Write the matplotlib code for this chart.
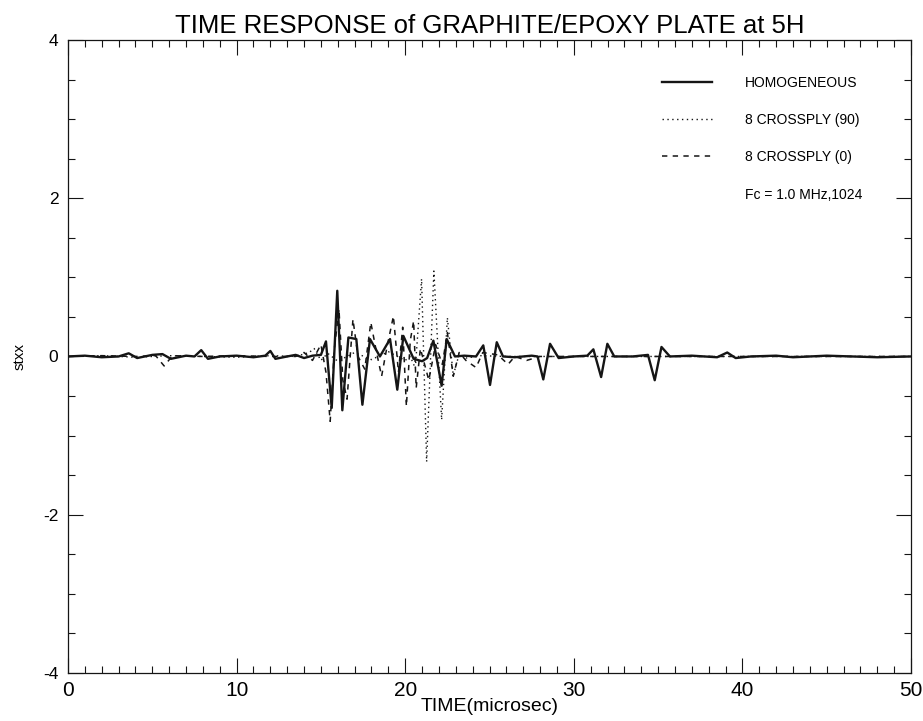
import numpy as np
import matplotlib.pyplot as plt
from matplotlib.ticker import MultipleLocator

# HOMOGENEOUS (solid)
t_hom = [0, 1, 2, 3, 3.6, 4.1, 5, 5.6, 6.1, 7, 7.5, 7.9, 8.3, 9, 10, 11, 11.7, 12.0, 12.3,
         13, 13.5, 14, 14.5, 15.0, 15.3, 15.64, 15.97, 16.27, 16.63, 17.1, 17.46, 17.91,
         18.5, 19.1, 19.53, 19.89, 20.5, 21.0, 21.3, 21.67, 22.16, 22.46, 22.95, 23.5,
         24.2, 24.63, 25.03, 25.43, 25.8, 26.5, 27.5, 27.85, 28.19, 28.59, 29.1, 30,
         30.8, 31.16, 31.62, 31.99, 32.4, 33.5, 34.4, 34.8, 35.2, 35.7, 37, 38.5, 39.1,
         39.6, 40.5, 42, 43, 44, 45, 46.5, 48, 50]
v_hom = [0, 0.01, -0.01, 0.0, 0.04, -0.02, 0.02, 0.03, -0.03, 0.01, 0.0, 0.08, -0.03, 0.0,
         0.01, -0.01, 0.01, 0.07, -0.03, 0.0, 0.02, -0.02, 0.01, 0.02, 0.19, -0.65, 0.83,
         -0.68, 0.24, 0.22, -0.61, 0.22, 0.0, 0.22, -0.42, 0.26, -0.03, -0.06, -0.02,
         0.2, -0.37, 0.22, 0.0, 0.01, 0.0, 0.14, -0.36, 0.18, 0.0, -0.01, 0.01, 0.0,
         -0.29, 0.16, -0.02, 0.0, 0.01, 0.09, -0.26, 0.16, 0.0, 0.0, 0.02, -0.3, 0.12,
         0.0, 0.01, -0.01, 0.05, -0.02, 0.0, 0.01, -0.01, 0.0, 0.01, 0.0, -0.01, 0.0]

# 8 CROSSPLY (90) (dotted)
t_90 = [0, 2, 4, 6, 8, 10, 12, 13.5, 14.3, 14.6, 15.0, 15.4, 16.0, 17.0, 18.0, 19.0, 20.0,
        20.3, 20.6, 20.97, 21.27, 21.7, 22.16, 22.5, 22.85, 23.2, 23.6, 24.5, 26, 30, 35,
        40, 45, 50]
v_90 = [0, 0.01, -0.01, 0.01, 0.0, -0.01, 0.01, 0.0, 0.05, 0.1, -0.05, 0.04, -0.06, 0.05,
        -0.04, 0.06, -0.05, 0.0, -0.15, 0.98, -1.33, 1.08, -0.8, 0.49, -0.24, 0.03, -0.02,
        0.01, 0.0, 0.0, 0.0, 0.0, 0.0, 0.0]

# 8 CROSSPLY (0) (dashed)
t_0 = [0, 2, 4, 5.2, 5.7, 6.2, 8, 10, 12, 13.5, 14.0, 14.5, 15.0, 15.3, 15.55, 15.8, 16.07,
       16.3, 16.55, 16.9, 17.2, 17.6, 17.96, 18.3, 18.6, 18.9, 19.3, 19.6, 19.85, 20.07,
       20.3, 20.5, 20.65, 20.9, 21.4, 21.8, 22.2, 22.5, 22.85, 23.2, 23.6, 24.2, 24.6,
       25.5, 26.1, 26.5, 27.2, 28, 30, 35, 40, 45, 50]
v_0 = [0, 0.01, 0.0, 0.01, -0.12, 0.01, 0.0, 0.01, 0.0, 0.0, 0.05, -0.05, 0.15, -0.2,
       -0.82, 0.1, 0.6, -0.3, -0.54, 0.47, 0.0, -0.16, 0.43, 0.05, -0.25, 0.1, 0.51, -0.2,
       0.37, -0.63, 0.2, 0.45, -0.4, 0.1, -0.3, 0.15, -0.1, 0.3, -0.25, 0.05, -0.05, -0.14,
       0.05, 0.02, -0.1, 0.0, -0.05, 0.0, 0.0, 0.0, 0.0, 0.0, 0.0]

labels = ['HOMOGENEOUS', '8 CROSSPLY (90)', '8 CROSSPLY (0)']
note = 'Fc = 1.0 MHz,1024'

plt.rcParams['font.family'] = ['Liberation Sans', 'DejaVu Sans']
plt.rcParams['axes.unicode_minus'] = False

fig = plt.figure(figsize=(9.23, 7.21), dpi=100)
ax = fig.add_axes([0.0737, 0.0666, 0.9133, 0.878])

ink = '#151515'
ax.plot(t_hom, v_hom, color=ink, lw=1.7, ls='-', label=labels[0], zorder=3)
ax.plot(t_90, v_90, color=ink, lw=1.0, ls=(0, (1, 2.5)), label=labels[1], zorder=2)
ax.plot(t_0, v_0, color=ink, lw=1.1, ls=(0, (3.5, 3.5)), label=labels[2], zorder=2)

ax.set_xlim(0, 50)
ax.set_ylim(-4, 4)
ax.xaxis.set_major_locator(MultipleLocator(10))
ax.xaxis.set_minor_locator(MultipleLocator(1))
ax.yaxis.set_major_locator(MultipleLocator(2))
ax.yaxis.set_minor_locator(MultipleLocator(0.5))
ax.tick_params(which='both', direction='in', top=True, right=True, color=ink, width=0.8)
ax.tick_params(which='major', length=11)
ax.tick_params(which='minor', length=5)
ax.tick_params(axis='x', labelsize=15, pad=6)
ax.tick_params(axis='y', labelsize=12.5, pad=7)
for s in ax.spines.values():
    s.set_linewidth(0.9)
    s.set_color(ink)

ax.set_title('TIME RESPONSE of GRAPHITE/EPOXY PLATE at 5H', fontsize=18.5, pad=5)
ax.set_xlabel('TIME(microsec)', fontsize=14, labelpad=-2)
ax.set_ylabel('stxx', fontsize=11, labelpad=12)

leg = ax.legend(loc='upper left', bbox_to_anchor=(0.7046, 0.9425), frameon=False,
                fontsize=10, borderpad=0, borderaxespad=0, handlelength=3.6,
                handletextpad=2.4, labelspacing=1.65)
ax.text(0.803, 0.755, note, transform=ax.transAxes, fontsize=10, va='center')

fig.savefig('out.png', dpi=100)
